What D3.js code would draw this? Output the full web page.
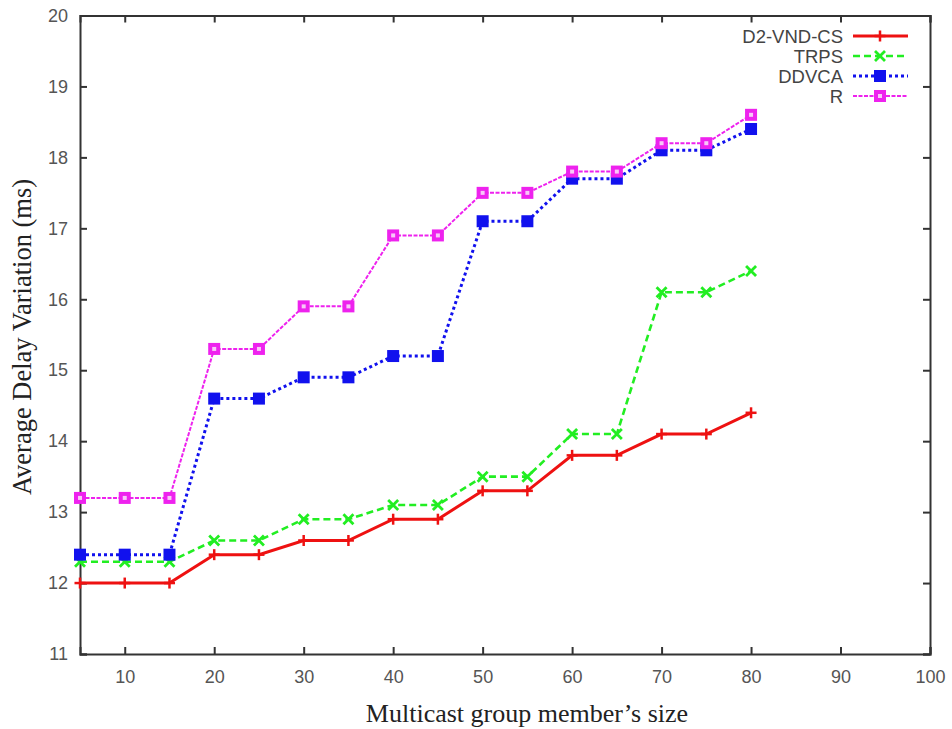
<!DOCTYPE html>
<html><head><meta charset="utf-8">
<script src="https://cdn.jsdelivr.net/npm/d3@7"></script>
<style>html,body{margin:0;padding:0;background:#fff;}</style>
</head><body>
<svg id="c" width="952" height="729"></svg>
<script>
const sizes = [5,10,15,20,25,30,35,40,45,50,55,60,65,70,75,80];
const d2vndcs = [12.0,12.0,12.0,12.4,12.4,12.6,12.6,12.9,12.9,13.3,13.3,13.8,13.8,14.1,14.1,14.4];
const trps    = [12.3,12.3,12.3,12.6,12.6,12.9,12.9,13.1,13.1,13.5,13.5,14.1,14.1,16.1,16.1,16.4];
const ddvca   = [12.4,12.4,12.4,14.6,14.6,14.9,14.9,15.2,15.2,17.1,17.1,17.7,17.7,18.1,18.1,18.4];
const rAlg    = [13.2,13.2,13.2,15.3,15.3,15.9,15.9,16.9,16.9,17.5,17.5,17.8,17.8,18.2,18.2,18.6];
const seriesNames = ["D2-VND-CS","TRPS","DDVCA","R"];
const xTicks = [10,20,30,40,50,60,70,80,90,100];
const yTicks = [11,12,13,14,15,16,17,18,19,20];

const svg = d3.select("#c");
const L=80, R=930, T=15.5, B=654;
const x = d3.scaleLinear().domain([5,100]).range([L,R]);
const y = d3.scaleLinear().domain([11,20]).range([B,T]);

const axCol="#333", lblCol="#555";
const tickFont="'Liberation Sans', Arial, sans-serif";
const g = svg.append("g");

// axes with inward ticks
const xb = g.append("g").attr("transform",`translate(0,${B})`)
  .call(d3.axisBottom(x).tickValues(xTicks).tickSize(-7).tickPadding(16).tickFormat(d3.format("d")));
const xt = g.append("g").attr("transform",`translate(0,${T})`)
  .call(d3.axisTop(x).tickValues(xTicks).tickSize(-7).tickFormat(""));
const yl = g.append("g").attr("transform",`translate(${L},0)`)
  .call(d3.axisLeft(y).tickValues(yTicks).tickSize(-7).tickPadding(12).tickFormat(d3.format("d")));
const yr = g.append("g").attr("transform",`translate(${R},0)`)
  .call(d3.axisRight(y).tickValues(yTicks).tickSize(-7).tickFormat(""));
[xb,xt,yl,yr].forEach(a=>{
  a.select(".domain").attr("stroke",axCol).attr("stroke-width",2);
  a.selectAll(".tick line").attr("stroke",axCol).attr("stroke-width",2);
  a.selectAll(".tick text").attr("fill",lblCol).attr("font-family",tickFont).attr("font-size",18);
});

// axis titles
svg.append("text").attr("x",527).attr("y",722).attr("text-anchor","middle")
  .attr("font-family","'Liberation Serif','Times New Roman',serif").attr("font-size",26).attr("fill","#222")
  .text("Multicast group member’s size");
svg.append("text").attr("transform","translate(31,337) rotate(-90)").attr("text-anchor","middle")
  .attr("font-family","'Liberation Serif','Times New Roman',serif").attr("font-size",26.5).attr("fill","#222")
  .text("Average Delay Variation (ms)");

const specs = [
  {name:seriesNames[0], vals:d2vndcs, color:"#ee1111", dash:null, w:3, marker:"plus"},
  {name:seriesNames[1], vals:trps, color:"#22ee22", dash:"7,4", w:2.6, marker:"x"},
  {name:seriesNames[2], vals:ddvca, color:"#1111ee", dash:"3,3", w:3, marker:"fsq"},
  {name:seriesNames[3], vals:rAlg, color:"#ee22ee", dash:"4,1.5", w:2, marker:"osq"}
];
const line = d3.line().x(d=>x(d[0])).y(d=>y(d[1]));

function drawMarker(sel, cx, cy, s){
  const m = sel.append("g").attr("transform",`translate(${cx},${cy})`);
  if(s.marker==="plus"){
    m.append("line").attr("x1",0).attr("x2",0).attr("y1",-5.5).attr("y2",5.5).attr("stroke",s.color).attr("stroke-width",2.5);
    m.append("line").attr("x1",-5.5).attr("x2",5.5).attr("y1",0).attr("y2",0).attr("stroke",s.color).attr("stroke-width",2.5);
  } else if(s.marker==="x"){
    m.append("path").attr("d","M-5,-5L5,5M-5,5L5,-5").attr("stroke",s.color).attr("stroke-width",2.8);
  } else if(s.marker==="fsq"){
    m.append("rect").attr("x",-6).attr("y",-6).attr("width",12).attr("height",12).attr("fill",s.color);
  } else {
    m.append("rect").attr("x",-6).attr("y",-6).attr("width",12).attr("height",12).attr("fill",s.color);
    m.append("rect").attr("x",-2).attr("y",-2).attr("width",4).attr("height",4).attr("fill","#f8c8f8");
  }
}

specs.forEach(s=>{
  const pts = sizes.map((v,i)=>[v,s.vals[i]]);
  g.append("path").datum(pts).attr("d",line).attr("fill","none")
    .attr("stroke",s.color).attr("stroke-width",s.w)
    .attr("stroke-dasharray",s.dash);
  pts.forEach(p=>drawMarker(g,x(p[0]),y(p[1]),s));
});

// legend
specs.forEach((s,i)=>{
  const ry = 36 + i*20;
  svg.append("text").attr("x",843).attr("y",ry+7).attr("text-anchor","end")
    .attr("font-family",tickFont).attr("font-size",18.5).attr("fill","#444").text(s.name);
  svg.append("line").attr("x1",853).attr("x2",908).attr("y1",ry).attr("y2",ry)
    .attr("stroke",s.color).attr("stroke-width",s.w).attr("stroke-dasharray",s.dash);
  drawMarker(svg,880,ry,s);
});
</script>
</body></html>
